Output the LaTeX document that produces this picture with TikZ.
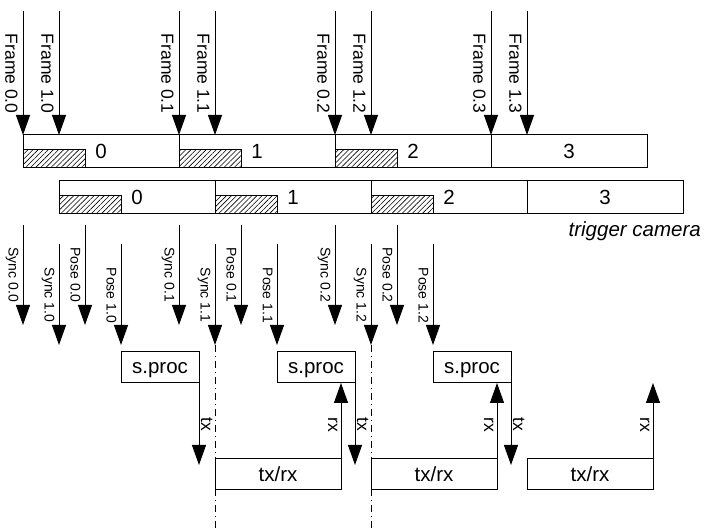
\documentclass[tikz,border=0pt]{standalone}
\usepackage{fontspec}
\setmainfont{Liberation Sans}
\usepackage{tikz}
\usetikzlibrary{arrows.meta,patterns.meta,calc}

\begin{document}
\begin{tikzpicture}[x=1pt,y=-1pt,
  sig/.style={line width=1pt,-{Triangle[length=20pt,width=14pt]}},
  dd/.style={line width=1pt,dash pattern=on 7pt off 4pt on 1pt off 4pt},
  slot/.style={draw,line width=1pt,minimum width=156pt,minimum height=33pt,inner sep=0pt,outer sep=0pt,font=\fontsize{20.5}{24}\selectfont},
  hatch/.style={draw,line width=1pt,minimum width=62pt,minimum height=18pt,inner sep=0pt,outer sep=0pt,anchor=south west,pattern={Lines[angle=45,distance=3.6pt,line width=0.6pt]}},
  proc/.style={draw,line width=1pt,minimum width=78pt,minimum height=31pt,inner sep=0pt,outer sep=0pt,text depth=0pt,anchor=north west,font=\fontsize{20.5}{24}\selectfont},
  txrx/.style={draw,line width=1pt,minimum width=126pt,minimum height=31pt,inner sep=0pt,outer sep=0pt,text depth=0pt,anchor=north west,font=\fontsize{20.5}{24}\selectfont},
  flab/.style={rotate=-90,anchor=north west,inner sep=5pt,font=\fontsize{17.5}{20}\selectfont},
  slab/.style={rotate=-90,anchor=north west,inner sep=4pt,font=\fontsize{14}{16}\selectfont},
  tlab/.style={rotate=-90,anchor=south west,inner sep=1.5pt,font=\fontsize{17.5}{20}\selectfont},
  rlab/.style={rotate=-90,anchor=north west,inner sep=3pt,font=\fontsize{17.5}{20}\selectfont}]
\useasboundingbox (0,0) rectangle (716,529);
\coordinate (top) at (0,11);
\coordinate (s0) at (0,225);
\coordinate (e0) at (0,325);
\coordinate (s1) at (0,244);
\coordinate (e1) at (0,345);
\coordinate (pr) at (0,352);
\coordinate (trl) at (0,459);
\coordinate (txe) at (0,465);
\coordinate (bot) at (0,529);

\node[slot] (ta0) at (101,151.5) {0};
\node[slot] (ta1) at (257,151.5) {1};
\node[slot] (ta2) at (413,151.5) {2};
\node[slot] (ta3) at (569,151.5) {3};
\node[slot] (tb0) at (137,197.5) {0};
\node[slot] (tb1) at (293,197.5) {1};
\node[slot] (tb2) at (449,197.5) {2};
\node[slot] (tb3) at (605,197.5) {3};
\node[hatch] (ha0) at (ta0.south west) {};
\node[hatch] (ha1) at (ta1.south west) {};
\node[hatch] (ha2) at (ta2.south west) {};
\node[hatch] (hb0) at (tb0.south west) {};
\node[hatch] (hb1) at (tb1.south west) {};
\node[hatch] (hb2) at (tb2.south west) {};
\node[font=\fontsize{20.5}{24}\selectfont\itshape,anchor=east,inner sep=0pt] (trig) at (701,231) {trigger camera};

\draw[sig] (ta0.north west |- top) -- node[flab,pos=.14] {Frame 0.0} (ta0.north west);
\draw[sig] (tb0.north west |- top) -- node[flab,pos=.14] {Frame 1.0} (tb0.north west |- ta0.north);
\draw[sig] (ta1.north west |- top) -- node[flab,pos=.14] {Frame 0.1} (ta1.north west);
\draw[sig] (tb1.north west |- top) -- node[flab,pos=.14] {Frame 1.1} (tb1.north west |- ta1.north);
\draw[sig] (ta2.north west |- top) -- node[flab,pos=.14] {Frame 0.2} (ta2.north west);
\draw[sig] (tb2.north west |- top) -- node[flab,pos=.14] {Frame 1.2} (tb2.north west |- ta2.north);
\draw[sig] (ta3.north west |- top) -- node[flab,pos=.14] {Frame 0.3} (ta3.north west);
\draw[sig] (tb3.north west |- top) -- node[flab,pos=.14] {Frame 1.3} (tb3.north west |- ta3.north);

\draw[sig] (ta0.south west |- s0) -- node[slab,pos=.18] {Sync 0.0} (ta0.south west |- e0);
\draw[sig] (tb0.south west |- s1) -- node[slab,pos=.19] {Sync 1.0} (tb0.south west |- e1);
\draw[sig] (ha0.south east |- s0) -- node[slab,pos=.18] {Pose 0.0} (ha0.south east |- e0);
\draw[sig] (hb0.south east |- s1) -- node[slab,pos=.19] {Pose 1.0} (hb0.south east |- e1);
\draw[sig] (ta1.south west |- s0) -- node[slab,pos=.18] {Sync 0.1} (ta1.south west |- e0);
\draw[sig] (tb1.south west |- s1) -- node[slab,pos=.19] {Sync 1.1} (tb1.south west |- e1);
\draw[sig] (ha1.south east |- s0) -- node[slab,pos=.18] {Pose 0.1} (ha1.south east |- e0);
\draw[sig] (hb1.south east |- s1) -- node[slab,pos=.19] {Pose 1.1} (hb1.south east |- e1);
\draw[sig] (ta2.south west |- s0) -- node[slab,pos=.18] {Sync 0.2} (ta2.south west |- e0);
\draw[sig] (tb2.south west |- s1) -- node[slab,pos=.19] {Sync 1.2} (tb2.south west |- e1);
\draw[sig] (ha2.south east |- s0) -- node[slab,pos=.18] {Pose 0.2} (ha2.south east |- e0);
\draw[sig] (hb2.south east |- s1) -- node[slab,pos=.19] {Pose 1.2} (hb2.south east |- e1);

\draw[dd] (tb1.south west |- e1) -- (tb1.south west |- bot);
\draw[dd] (tb2.south west |- e1) -- (tb2.south west |- bot);

\node[proc] (sp0) at (hb0.south east |- pr) {s.proc};
\node[proc] (sp1) at (hb1.south east |- pr) {s.proc};
\node[proc] (sp2) at (hb2.south east |- pr) {s.proc};
\node[txrx] (tr0) at (tb1.south west |- trl) {tx/rx};
\node[txrx] (tr1) at (tb2.south west |- trl) {tx/rx};
\node[txrx] (tr2) at (tb3.south west |- trl) {tx/rx};

\draw[sig] (sp0.south east) -- node[tlab,pos=.4] {tx} (sp0.south east |- txe);
\draw[sig] (sp1.south east) -- node[tlab,pos=.4] {tx} (sp1.south east |- txe);
\draw[sig] (sp2.south east) -- node[tlab,pos=.4] {tx} (sp2.south east |- txe);
\draw[sig] (tr0.north east) -- node[rlab,pos=.59] {rx} (tr0.north east |- sp1.south);
\draw[sig] (tr1.north east) -- node[rlab,pos=.59] {rx} (tr1.north east |- sp2.south);
\draw[sig] (tr2.north east) -- node[rlab,pos=.59] {rx} (tr2.north east |- sp2.south);
\end{tikzpicture}
\end{document}
